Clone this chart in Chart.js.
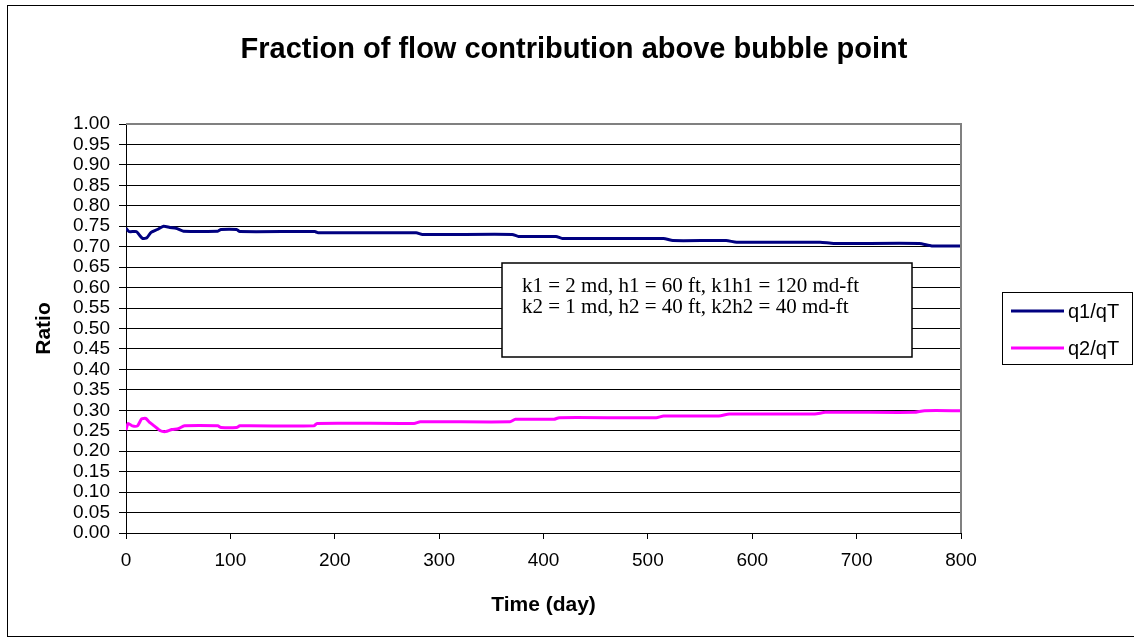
<!DOCTYPE html>
<html>
<head>
<meta charset="utf-8">
<script src="https://cdn.jsdelivr.net/npm/chart.js@4.4.1/dist/chart.umd.min.js"></script>
<style>
html,body{margin:0;padding:0;background:#fff;}
#wrap{width:1134px;height:642px;position:relative;}
</style>
</head>
<body>
<div id="wrap"><canvas id="c" width="1134" height="642"></canvas></div>
<script>
// ---- data ----
const chartTitle = "Fraction of flow contribution above bubble point";
const xTitle = "Time (day)";
const yTitle = "Ratio";
const seriesNames = ["q1/qT", "q2/qT"];
const noteLines = ["k1 = 2 md, h1 = 60 ft, k1h1 = 120 md-ft", "k2 = 1 md, h2 = 40 ft, k2h2 = 40 md-ft"];
const xTicks = [0, 100, 200, 300, 400, 500, 600, 700, 800];
const yTicks = [0, 0.05, 0.10, 0.15, 0.20, 0.25, 0.30, 0.35, 0.40, 0.45, 0.50, 0.55, 0.60, 0.65, 0.70, 0.75, 0.80, 0.85, 0.90, 0.95, 1.00];

const q1Days = [0, 3, 10, 13, 16, 20, 24, 30, 36, 42, 48, 55, 88, 91, 106, 109, 181, 184, 278, 284, 370, 376, 412, 418, 515, 524, 575, 585, 665, 678, 760, 772, 800];
const q1Vals = [0.745, 0.737, 0.737, 0.728, 0.720, 0.722, 0.735, 0.742, 0.750, 0.747, 0.745, 0.738, 0.738, 0.742, 0.742, 0.737, 0.737, 0.734, 0.734, 0.730, 0.730, 0.725, 0.725, 0.720, 0.720, 0.715, 0.715, 0.711, 0.711, 0.708, 0.708, 0.702, 0.702];

const q2Days = [0, 2, 6, 11, 15, 19, 22, 27, 33, 38, 44, 50, 56, 88, 91, 106, 109, 180, 183, 276, 282, 368, 373, 410, 415, 508, 515, 568, 578, 660, 670, 755, 765, 800];
const q2Vals = [0.252, 0.268, 0.262, 0.262, 0.279, 0.280, 0.272, 0.262, 0.250, 0.248, 0.253, 0.255, 0.262, 0.262, 0.258, 0.258, 0.262, 0.262, 0.268, 0.268, 0.272, 0.272, 0.278, 0.278, 0.282, 0.282, 0.286, 0.286, 0.291, 0.291, 0.295, 0.295, 0.299, 0.299];

const colors = ["#000080", "#FF00FF"];

const toXY = (xs, ys) => xs.map((x, i) => ({x: x, y: ys[i]}));

const SANS = "'Liberation Sans', Arial, sans-serif";
const SERIF = "'Liberation Serif', 'Times New Roman', serif";

const decor = {
  id: 'decor',
  beforeDraw(chart) {
    const ctx = chart.ctx;
    ctx.save();
    ctx.fillStyle = '#fff';
    ctx.fillRect(0, 0, chart.width, chart.height);
    ctx.restore();
  },
  afterDraw(chart) {
    const ctx = chart.ctx;
    const a = chart.chartArea;
    ctx.save();
    // chart title
    ctx.fillStyle = '#000';
    ctx.font = "bold 29px " + SANS;
    ctx.textAlign = 'center';
    ctx.textBaseline = 'middle';
    ctx.fillText(chartTitle, 574, 50);

    // plot area border (top/right grey)
    ctx.strokeStyle = '#808080';
    ctx.lineWidth = 2;
    ctx.beginPath();
    ctx.moveTo(a.left, a.top);
    ctx.lineTo(a.right, a.top);
    ctx.lineTo(a.right, a.bottom);
    ctx.stroke();
    // outer chart border
    ctx.strokeStyle = '#000';
    ctx.lineWidth = 1;
    ctx.strokeRect(7.5, 5.5, 1200, 631);

    // annotation text box
    ctx.fillStyle = '#fff';
    ctx.fillRect(502, 263, 410, 94);
    ctx.strokeStyle = '#000';
    ctx.lineWidth = 1.5;
    ctx.strokeRect(502, 263, 410, 94);
    ctx.fillStyle = '#000';
    ctx.font = "21px " + SERIF;
    ctx.textBaseline = 'middle';
    ctx.textAlign = 'left';
    noteLines.forEach((t, i) => ctx.fillText(t, 522, 286 + i * 21));

    // legend
    ctx.fillStyle = '#fff';
    ctx.fillRect(1002, 292, 130, 72);
    ctx.strokeStyle = '#000';
    ctx.lineWidth = 1;
    ctx.strokeRect(1002.5, 292.5, 130, 72);
    ctx.font = "20px " + SANS;
    chart.data.datasets.forEach((ds, i) => {
      const y = 311 + i * 37;
      ctx.strokeStyle = ds.borderColor;
      ctx.lineWidth = 3;
      ctx.beginPath();
      ctx.moveTo(1011, y);
      ctx.lineTo(1064, y);
      ctx.stroke();
      ctx.fillStyle = '#000';
      ctx.fillText(ds.label, 1068, y + 1);
    });
    ctx.restore();
  }
};

new Chart(document.getElementById('c'), {
  type: 'line',
  data: {
    datasets: [
      {label: seriesNames[0], data: toXY(q1Days, q1Vals), borderColor: colors[0], backgroundColor: colors[0], borderWidth: 3, pointRadius: 0, tension: 0.2, fill: false},
      {label: seriesNames[1], data: toXY(q2Days, q2Vals), borderColor: colors[1], backgroundColor: colors[1], borderWidth: 3, pointRadius: 0, tension: 0.2, fill: false}
    ]
  },
  options: {
    responsive: false,
    animation: false,
    layout: {padding: {left: 0, right: 173, top: 124, bottom: 0}},
    plugins: {
      legend: {display: false},
      tooltip: {enabled: false},
      title: {display: false}
    },
    scales: {
      x: {
        type: 'linear',
        min: 0, max: 800,
        afterFit(s) { s.height = 109; },
        afterBuildTicks(s) { s.ticks = xTicks.map(v => ({value: v})); },
        ticks: {color: '#000', font: {family: SANS, size: 19}, padding: 10, maxRotation: 0, autoSkip: false},
        grid: {drawOnChartArea: false, drawTicks: true, tickLength: 6, tickColor: '#000'},
        border: {display: true, color: '#000', width: 1},
        title: {display: true, text: xTitle, color: '#000', font: {family: SANS, size: 21, weight: 'bold'}, padding: {top: 0, bottom: 24}}
      },
      y: {
        type: 'linear',
        min: 0, max: 1,
        afterFit(s) { s.width = 126; },
        afterBuildTicks(s) { s.ticks = yTicks.map(v => ({value: v})); },
        ticks: {color: '#000', font: {family: SANS, size: 19}, padding: 9, autoSkip: false, callback: v => Number(v).toFixed(2)},
        grid: {color: '#000', lineWidth: 1, drawTicks: true, tickLength: 7, tickColor: '#000'},
        border: {display: true, color: '#000', width: 1},
        title: {display: true, text: yTitle, color: '#000', font: {family: SANS, size: 21, weight: 'bold'}, padding: {top: 32, bottom: 0}}
      }
    }
  },
  plugins: [decor]
});
</script>
</body>
</html>
